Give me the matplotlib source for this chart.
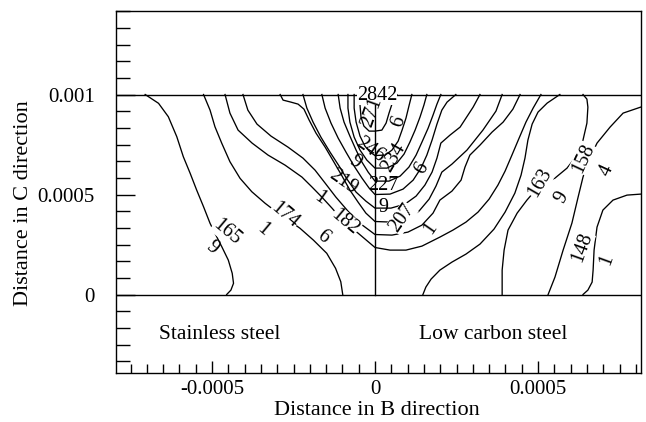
import numpy as np
import matplotlib.pyplot as plt
from matplotlib.ticker import MultipleLocator

plt.rcParams["font.family"] = ["Liberation Serif", "DejaVu Serif"]

# contour lines, (x, y) in micrometres
# left side, top edge down to the bottom edge
l1 = [(-705, 1000), (-664, 956), (-634, 889), (-608, 789), (-588, 689), (-567, 606),
      (-547, 522), (-526, 439), (-506, 356), (-491, 306), (-470, 239), (-450, 172),
      (-438, 106), (-434, 56), (-442, 22), (-455, 0)]
l2 = [(-526, 1000), (-506, 922), (-491, 839), (-470, 756), (-445, 664), (-414, 581),
      (-378, 514), (-337, 456), (-317, 431), (-273, 381), (-230, 331), (-189, 272),
      (-148, 206), (-121, 131), (-105, 64), (-99, 0)]

# nested U shaped lines around the weld centre, inner to outer
u1 = [(-46, 1000), (-46, 947), (-43, 887), (-34, 842), (-18, 817), (0, 817),
      (21, 822), (34, 857), (43, 907), (52, 952), (67, 1000)]
u2 = [(-64, 1000), (-64, 932), (-58, 862), (-46, 792), (-31, 742), (-15, 712), (0, 695),
      (31, 697), (52, 722), (71, 767), (83, 822), (95, 882), (104, 942), (113, 1000)]
u3 = [(-83, 1000), (-83, 932), (-77, 862), (-64, 787), (-46, 722), (-25, 672), (0, 632),
      (37, 632), (67, 657), (89, 702), (107, 762), (123, 822), (138, 887), (150, 947),
      (159, 1000)]
u4 = [(-113, 1000), (-107, 932), (-95, 862), (-77, 792), (-58, 722), (-40, 662),
      (-21, 612), (0, 567), (43, 567), (77, 592), (104, 637), (126, 697), (144, 762),
      (163, 832), (178, 897), (190, 952), (202, 1000)]
u5 = [(-163, 1000), (-153, 932), (-135, 857), (-113, 782), (-89, 712), (-64, 642),
      (-40, 582), (-18, 532), (0, 500), (46, 502), (86, 527), (117, 572), (141, 632),
      (159, 697), (175, 772), (190, 852), (205, 922), (221, 962), (248, 1000)]
u6 = [(-221, 1000), (-209, 932), (-190, 862), (-166, 787), (-138, 712), (-110, 642),
      (-86, 577), (-58, 512), (-28, 467), (0, 432), (49, 432), (92, 452), (126, 492),
      (153, 547), (175, 612), (190, 682), (202, 757), (230, 797), (261, 837), (285, 897),
      (301, 937), (322, 1000)]
u7 = [(-291, 1000), (-282, 972), (-258, 962), (-236, 952), (-218, 927), (-202, 872),
      (-181, 807), (-153, 737), (-126, 662), (-101, 592), (-77, 522), (-52, 462),
      (-28, 407), (0, 365), (52, 362), (98, 377), (135, 417), (166, 477), (187, 542),
      (205, 612), (236, 652), (282, 722), (331, 822), (371, 917), (390, 1000)]
u8 = [(-405, 1000), (-390, 922), (-362, 852), (-319, 792), (-267, 737), (-221, 682),
      (-184, 622), (-153, 557), (-120, 487), (-83, 417), (-43, 352), (0, 300), (52, 297),
      (101, 312), (144, 347), (178, 407), (199, 472), (236, 517), (264, 572), (276, 637),
      (291, 697), (322, 747), (359, 812), (393, 862), (423, 927), (445, 1000)]
u9 = [(-460, 1000), (-445, 907), (-420, 822), (-377, 757), (-328, 697), (-276, 647),
      (-224, 587), (-193, 537), (-163, 487), (-132, 432), (-92, 357), (-52, 307), (0, 235),
      (46, 222), (95, 222), (144, 242), (199, 287), (239, 322), (279, 362), (316, 412),
      (350, 477), (377, 547), (399, 617), (420, 697), (442, 782), (463, 862), (485, 932),
      (509, 1000)]

# right side, bottom edge up to the top / right edge
r1 = [(147, 0), (156, 37), (172, 77), (199, 122), (236, 162), (279, 202), (322, 252),
      (365, 327), (399, 412), (429, 507), (448, 597), (460, 682), (469, 772), (482, 852),
      (500, 912), (528, 957), (567, 1000)]
r2 = [(390, 0), (390, 122), (396, 222), (408, 322), (436, 407), (466, 472), (506, 547),
      (552, 582), (589, 632), (620, 697), (638, 772), (650, 857), (653, 937), (650, 977),
      (638, 1000)]
r3 = [(531, 0), (552, 87), (577, 222), (604, 357), (623, 487), (638, 587), (653, 662),
      (681, 757), (721, 837), (761, 907), (815, 937)]
r4 = [(638, 0), (653, 22), (666, 62), (669, 122), (672, 222), (681, 337), (699, 422),
      (730, 472), (773, 497), (815, 502)]

contours = [l1, l2, u1, u2, u3, u4, u5, u6, u7, u8, u9, r1, r2, r3, r4]

# contour labels as printed (the programme wrapped them onto two lines)
label_text = ["2842", "271", "6", "246", "9", "234", "6", "219", "1", "227", "9",
              "182", "6", "207", "1", "174", "1", "165", "9",
              "163", "9", "158", "4", "148", "1"]
label_x = [6, -9, 71, -15, -61, 58, 143, -98, -169, 25, 25,
           -92, -159, 83, 169, -276, -343, -454, -500,
           506, 574, 640, 712, 634, 711]
label_y = [997, 912, 862, 722, 662, 682, 631, 562, 482, 547, 437,
           362, 287, 382, 332, 397, 322, 312, 232,
           557, 487, 682, 622, 237, 172]
label_rot = [0, 70, 70, -35, -35, 60, 60, -35, -35, 0, 0,
             -40, -40, 55, 55, -40, -40, -40, -40,
             60, 60, 65, 65, 70, 70]
label_boxed = [True, False, False, False, False, False, False, False, False, False, False,
               True, False, True, False, True, False, True, False,
               True, False, True, False, True, False]

plate_top = 1000     # um
plate_bottom = 0
interface_x = 0
um = 1e-6

fig = plt.figure(figsize=(6.46, 4.22), dpi=100)
ax = fig.add_axes([0.1788, 0.1154, 0.8130, 0.8585])

for c in contours:
    xy = np.array(c) * um
    ax.plot(xy[:, 0], xy[:, 1], color="black", lw=0.95, zorder=2)

ax.axhline(plate_top * um, color="black", lw=1.0, zorder=2)
ax.axhline(plate_bottom * um, color="black", lw=1.0, zorder=2)
ax.plot([interface_x * um, interface_x * um], [plate_bottom * um, plate_top * um],
        color="black", lw=1.0, zorder=2)

for t, x, y, r, b in zip(label_text, label_x, label_y, label_rot, label_boxed):
    kw = {}
    if b:
        kw["bbox"] = dict(facecolor="white", edgecolor="none", pad=0.2)
    ax.text(x * um, y * um, t, rotation=r, rotation_mode="anchor", ha="center",
            va="center", fontsize=14.5, zorder=3, **kw)

ax.text(-475 * um, -202 * um, "Stainless steel", ha="center", va="center", fontsize=15.5)
ax.text(363 * um, -202 * um, "Low carbon steel", ha="center", va="center", fontsize=15.5)

ax.set_xlim(-796 * um, 815 * um)
ax.set_ylim(-394 * um, 1417.5 * um)

ax.set_xticks([-0.0005, 0, 0.0005])
ax.set_xticklabels(["-0.0005", "0", "0.0005"])
ax.set_yticks([0, 0.0005, 0.001])
ax.set_yticklabels(["0", "0.0005", "0.001"])
ax.xaxis.set_minor_locator(MultipleLocator(0.00005))
ax.yaxis.set_minor_locator(MultipleLocator(0.001 / 12))
ax.tick_params(axis="x", which="major", direction="in", length=9, width=1, pad=5,
               labelsize=15)
ax.tick_params(axis="x", which="minor", direction="in", length=6.5, width=1)
ax.tick_params(axis="y", which="major", direction="in", length=14, width=1, pad=15,
               labelsize=15)
ax.tick_params(axis="y", which="minor", direction="in", length=10, width=1)

for s in ax.spines.values():
    s.set_linewidth(1.0)

ax.set_xlabel("Distance in B direction", fontsize=16, va="center")
ax.xaxis.set_label_coords(0.498, -0.103)
ax.set_ylabel("Distance in C direction", fontsize=16, va="center")
ax.yaxis.set_label_coords(-0.175, 0.47)

fig.savefig("out.png", dpi=100)
